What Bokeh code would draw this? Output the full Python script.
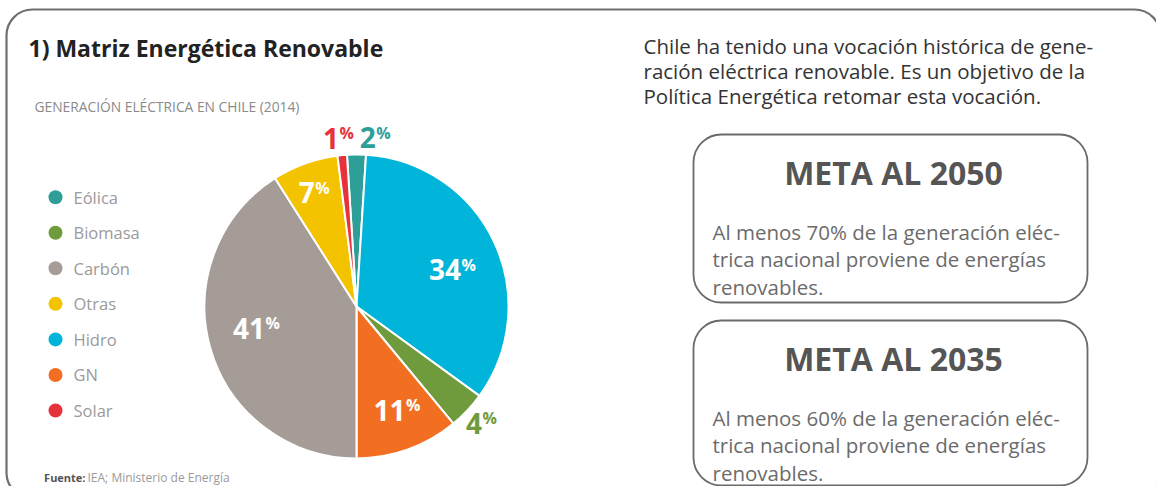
import math
from bokeh.plotting import figure
from bokeh.models import ColumnDataSource, Range1d, BoxAnnotation
from bokeh.core.properties import value
from bokeh.embed import file_html
from bokeh.resources import INLINE

# ---------------- data ----------------
categories = ["Eólica", "Biomasa", "Carbón", "Otras", "Hidro", "GN", "Solar"]
shares = [2, 4, 41, 7, 34, 11, 1]
colors = ["#2e9e98", "#6f9b3c", "#a59c98", "#f4c300", "#00b5d9", "#f26f21", "#e5323b"]
pie_order = ["Eólica", "Hidro", "Biomasa", "GN", "Carbón", "Otras", "Solar"]

title = "1) Matriz Energética Renovable"
subtitle = "GENERACIÓN ELÉCTRICA EN CHILE (2014)"
source_bold = "Fuente:"
source_rest = "IEA; Ministerio de Energía"
intro_lines = ["Chile ha tenido una vocación histórica de gene-",
               "ración eléctrica renovable. Es un objetivo de la",
               "Política Energética retomar esta vocación."]
goal_titles = ["META AL 2050", "META AL 2035"]
goal_lines = [["Al menos 70% de la generación eléc-",
               "trica nacional proviene de energías",
               "renovables."],
              ["Al menos 60% de la generación eléc-",
               "trica nacional proviene de energías",
               "renovables."]]

# ---------------- layout / style ----------------
W, H = 1156, 486


def Y(py):
    # layout positions are given top-down in pixels
    return H - py


FONT = value("Open Sans")
CX, CY, R = 356, 306, 152
START_DEG = -3.6  # clockwise from 12 o'clock, where the first slice starts
label_style = {  # radius factor, angle nudge (deg), colour mode
    "Eólica": (1.115, 6, "slice"),
    "Hidro": (0.67, 4, "white"),
    "Biomasa": (1.12, 0, "slice"),
    "GN": (0.73, -1, "white"),
    "Carbón": (0.68, 4, "white"),
    "Otras": (0.80, -1, "white"),
    "Solar": (1.115, -1, "slice"),
}

p = figure(width=W, height=H, output_backend="svg", toolbar_location=None,
           x_range=Range1d(0, W), y_range=Range1d(0, H),
           x_axis_location=None, y_axis_location=None, min_border=0,
           background_fill_color="white", border_fill_color="white")
p.grid.visible = False
p.outline_line_color = None

# outer frame and goal boxes
p.add_layout(BoxAnnotation(left=6, right=1160, top=Y(9), bottom=Y(498),
                           border_radius=26, fill_alpha=0, line_alpha=1,
                           line_color="#6f6f6f", line_width=2.2))
box_tb = [(134, 302), (320, 485)]
for bt, bb in box_tb:
    p.add_layout(BoxAnnotation(left=693, right=1087, top=Y(bt), bottom=Y(bb),
                               border_radius=28, fill_alpha=0, line_alpha=1,
                               line_color="#6a6a6a", line_width=1.8))

# ---------------- pie ----------------
share_of = dict(zip(categories, shares))
color_of = dict(zip(categories, colors))
starts, ends, wcols, mids = [], [], [], []
acc = START_DEG
for c in pie_order:
    t0 = acc
    t1 = acc + share_of[c] * 3.6
    acc = t1
    # clockwise-from-top degrees -> math angles (anticlockwise from +x)
    starts.append(math.radians(90 - t1))
    ends.append(math.radians(90 - t0))
    wcols.append(color_of[c])
    mids.append((t0 + t1) / 2)

src = ColumnDataSource(dict(start=starts, end=ends, color=wcols, cat=pie_order))
p.wedge(x=CX, y=Y(CY), radius=R, start_angle="start", end_angle="end",
        fill_color="color", line_color="white", line_width=2, source=src)

# percentage labels
num_x, num_y, num_t, num_c = [], [], [], []
pct_x, pct_y, pct_c = [], [], []
for c, m in zip(pie_order, mids):
    rf, nudge, mode = label_style[c]
    a = math.radians(m + nudge)
    lx = CX + rf * R * math.sin(a)
    ly = CY - rf * R * math.cos(a)
    txt = str(share_of[c])
    split = lx + (len(txt) * 16 - 13) / 2
    col = "white" if mode == "white" else color_of[c]
    num_x.append(split); num_y.append(Y(ly)); num_t.append(txt); num_c.append(col)
    pct_x.append(split + 0.5); pct_y.append(Y(ly - 5)); pct_c.append(col)

p.text(x=num_x, y=num_y, text=num_t, text_color=num_c, text_font=FONT,
       text_font_size=value("28px"), text_font_style="bold",
       text_align="right", text_baseline="middle")
p.text(x=pct_x, y=pct_y, text=["%"] * len(pct_x), text_color=pct_c, text_font=FONT,
       text_font_size=value("16px"), text_font_style="bold",
       text_align="left", text_baseline="middle")

# ---------------- legend ----------------
leg_x, leg_y0, leg_dy = 55, 196.7, 35.55
ly = [Y(leg_y0 + i * leg_dy) for i in range(len(categories))]
p.scatter(x=[leg_x] * len(categories), y=ly, size=14, marker="circle",
          fill_color=colors, line_color=None)
p.text(x=[leg_x + 18] * len(categories), y=ly, text=categories, text_color="#9a9a9a",
       text_font=FONT, text_font_size=value("16.5px"),
       text_align="left", text_baseline="middle")

# ---------------- texts ----------------
p.text(x=[28], y=[Y(47.7)], text=[title], text_color="#222222", text_font=FONT,
       text_font_size=value("23px"), text_font_style="bold",
       text_baseline="alphabetic")
p.text(x=[34], y=[Y(106)], text=[subtitle], text_color="#8a8a8a", text_font=FONT,
       text_font_size=value("13.8px"), text_baseline="alphabetic")
p.text(x=[85], y=[Y(477)], text=[source_bold], text_color="#555555", text_font=FONT,
       text_font_size=value("11px"), text_font_style="bold", text_baseline="alphabetic",
       text_align="right")
p.text(x=[87], y=[Y(477)], text=[source_rest], text_color="#9a9a9a", text_font=FONT,
       text_font_size=value("12px"), text_baseline="alphabetic")

p.text(x=[643] * 3, y=[Y(45 + i * 25) for i in range(3)], text=intro_lines,
       text_color="#333333", text_font=FONT, text_font_size=value("20.5px"),
       text_baseline="alphabetic")

for (bt, bb), gt, gl in zip(box_tb, goal_titles, goal_lines):
    p.text(x=[893], y=[Y(bt + 37.7)], text=[gt], text_color="#555555", text_font=FONT,
           text_font_size=value("32px"), text_font_style="bold",
           text_align="center", text_baseline="alphabetic")
    p.text(x=[712] * 3, y=[Y(bt + 97 + i * 27.5) for i in range(3)], text=gl,
           text_color="#6b6b6b", text_font=FONT, text_font_size=value("20.5px"),
           text_baseline="alphabetic")

open("out.html", "w").write(file_html(p, INLINE))
